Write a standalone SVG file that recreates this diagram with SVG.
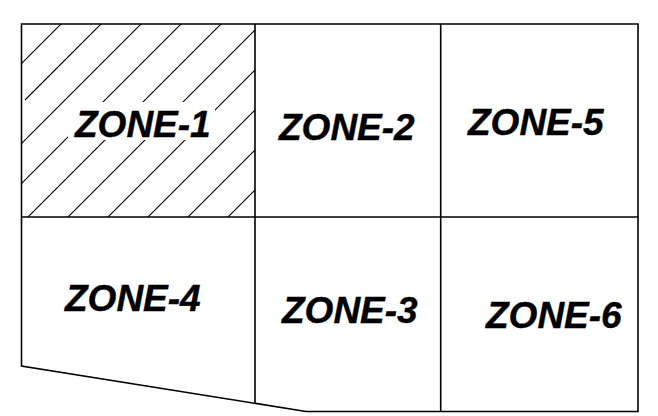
<svg xmlns="http://www.w3.org/2000/svg" width="658" height="416" viewBox="0 0 658 416">
<defs>
<style>
.ln{fill:none;stroke:#000;stroke-width:1.6}
.ht{stroke:#000;stroke-width:1.1}
.lb{font-family:"Liberation Sans",Arial,sans-serif;font-weight:bold;font-style:italic;font-size:37px;fill:#000;stroke:#000;stroke-width:0.4}
</style>
<clipPath id="z1clip"><rect x="21.5" y="24" width="233.5" height="193"/></clipPath>
</defs>
<rect width="658" height="416" fill="#fff"/>
<g id="zone-1">
<g clip-path="url(#z1clip)">
<path class="ht" d="M-15 100L85 0M25 100L125 0M-100 265L165 0M-100 305L205 0M-100 345L245 0M-100 385L285 0M-100 425L325 0M-100 465L365 0M-100 505L405 0M-100 545L445 0M-100 585L485 0"/>
</g>
<rect x="68" y="102" width="147" height="38" fill="#fff"/>
<text class="lb" x="75" y="137">ZONE-1</text>
</g>
<g id="zone-2"><text class="lb" x="279" y="140">ZONE-2</text></g>
<g id="zone-5"><text class="lb" x="468" y="135">ZONE-5</text></g>
<g id="zone-4"><text class="lb" x="65" y="311">ZONE-4</text></g>
<g id="zone-3"><text class="lb" x="282" y="323">ZONE-3</text></g>
<g id="zone-6"><text class="lb" x="486" y="328">ZONE-6</text></g>
<g id="outline">
<path class="ln" d="M21.5 24H638V411.5H306L21.5 366Z"/>
<path class="ln" d="M255 24V403.3M440.7 24V411.5M21.5 217H638"/>
</g>
</svg>
